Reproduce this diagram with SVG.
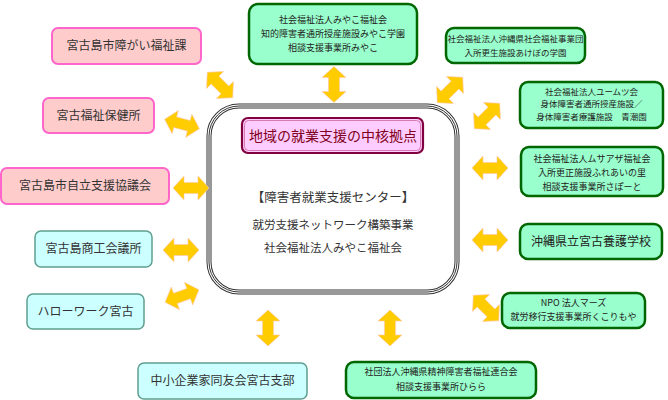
<svg xmlns="http://www.w3.org/2000/svg" xmlns:xlink="http://www.w3.org/1999/xlink" width="668" height="400" viewBox="0 0 668 400">
<style>
text{font-family:"Noto Sans CJK JP","Noto Sans CJK SC",sans-serif;text-anchor:middle;fill:#333}
.pink{fill:#ffcccc;stroke:#ff66cc;stroke-width:2}
.cyan{fill:#ccffff;stroke:#5f9f8f;stroke-width:1.5}
.green{fill:#99ffcc;stroke:#006600;stroke-width:2.5}
.arr{fill:#ffcc00;stroke:#ffc8b0;stroke-width:0.6}
.t12{font-size:12px}
.t9{font-size:9px;fill:#222}
.t85{font-size:8.5px;fill:#222}
</style>
<defs>
<path id="arrow" d="M-18,0 L-7,-12 L-7,-5.5 L7,-5.5 L7,-12 L18,0 L7,12 L7,5.5 L-7,5.5 L-7,12 Z"/>
</defs>
<rect width="668" height="400" fill="#fff"/>

<g id="center">
<rect x="209" y="106" width="248" height="186" rx="30" fill="#fff" stroke="#333" stroke-width="5"/>
<rect x="209" y="106" width="248" height="186" rx="30" fill="none" stroke="#fff" stroke-width="3"/>
<rect x="209" y="106" width="248" height="186" rx="30" fill="none" stroke="#333" stroke-width="1"/>
<rect x="242" y="118" width="181" height="35" rx="6" fill="#ffccff" stroke="#800040" stroke-width="2.2"/>
<rect x="244.5" y="120.5" width="176" height="30" rx="4" fill="none" stroke="#cc6699" stroke-width="0.8"/>
<text x="333" y="140.5" style="font-size:14px;fill:#800020">地域の就業支援の中核拠点</text>
<text x="333" y="201.5" style="font-size:12.5px">【障害者就業支援センター】</text>
<text x="333" y="229" style="font-size:11.5px">就労支援ネットワーク構築事業</text>
<text x="333" y="252" style="font-size:11.5px">社会福祉法人みやこ福祉会</text>
</g>

<g id="n1"><rect class="pink" x="52" y="28" width="149" height="36" rx="6"/><text class="t12" x="126.5" y="50">宮古島市障がい福祉課</text></g>
<g id="n2"><rect class="pink" x="43" y="98" width="111" height="35" rx="6"/><text class="t12" x="98.5" y="119.5">宮古福祉保健所</text></g>
<g id="n3"><rect class="pink" x="1" y="168" width="168" height="36" rx="6"/><text class="t12" x="85" y="190">宮古島市自立支援協議会</text></g>
<g id="n4"><rect class="cyan" x="35" y="231" width="117" height="36" rx="6"/><text class="t12" x="93.5" y="253">宮古島商工会議所</text></g>
<g id="n5"><rect class="cyan" x="27" y="294" width="117" height="35" rx="6"/><text class="t12" x="85.5" y="315.5">ハローワーク宮古</text></g>
<g id="n6"><rect class="cyan" x="138" y="363" width="169" height="36" rx="6"/><text class="t12" x="222.5" y="385">中小企業家同友会宮古支部</text></g>

<g id="n7"><rect class="green" x="249" y="4" width="168" height="60" rx="9"/>
<text class="t9" x="333" y="22.5">社会福祉法人みやこ福祉会</text>
<text class="t9" x="333" y="36.5">知的障害者通所授産施設みやこ学園</text>
<text class="t9" x="333" y="50.5">相談支援事業所みやこ</text></g>
<g id="n8"><rect class="green" x="446" y="28" width="139" height="35" rx="8"/>
<text class="t85" x="515.5" y="41.5">社会福祉法人沖縄県社会福祉事業団</text>
<text class="t85" x="515.5" y="56">入所更生施設あけぼの学園</text></g>
<g id="n9"><rect class="green" x="520" y="82" width="143" height="46" rx="8"/>
<text class="t85" x="591.5" y="94.5">社会福祉法人ユームツ会</text>
<text class="t85" x="591.5" y="107">身体障害者通所授産施設／</text>
<text class="t85" x="591.5" y="119.5">身体障害者療護施設　青潮園</text></g>
<g id="n10"><rect class="green" x="521" y="147" width="142" height="49" rx="8"/>
<text class="t9" x="592" y="162">社会福祉法人ムサアザ福祉会</text>
<text class="t9" x="592" y="176">入所更正施設ふれあいの里</text>
<text class="t9" x="592" y="190">相談支援事業所さぽーと</text></g>
<g id="n11"><rect class="green" x="520" y="224" width="142" height="35" rx="8"/>
<text class="t12" x="591" y="246" style="fill:#222">沖縄県立宮古養護学校</text></g>
<g id="n12"><rect class="green" x="502" y="293" width="143" height="35" rx="8"/>
<text class="t9" x="573.5" y="306">NPO 法人マーズ</text>
<text class="t9" x="573.5" y="320">就労移行支援事業所くこりもや</text></g>
<g id="n13"><rect class="green" x="346" y="362" width="190" height="36" rx="8"/>
<text class="t9" x="441" y="375">社団法人沖縄県精神障害者福祉連合会</text>
<text class="t9" x="441" y="390">相談支援事業所ひらら</text></g>

<g id="connectors" class="arr">
<use xlink:href="#arrow" transform="translate(220,85) rotate(45)"/>
<use xlink:href="#arrow" transform="translate(334,84.5) rotate(90)"/>
<use xlink:href="#arrow" transform="translate(450,90) rotate(-45)"/>
<use xlink:href="#arrow" transform="translate(487,116) rotate(-45)"/>
<use xlink:href="#arrow" transform="translate(490,168)"/>
<use xlink:href="#arrow" transform="translate(490,240)"/>
<use xlink:href="#arrow" transform="translate(486,308) rotate(45)"/>
<use xlink:href="#arrow" transform="translate(268,328) rotate(90)"/>
<use xlink:href="#arrow" transform="translate(390,328) rotate(90)"/>
<use xlink:href="#arrow" transform="translate(182,124) rotate(15)"/>
<use xlink:href="#arrow" transform="translate(191,188)"/>
<use xlink:href="#arrow" transform="translate(181,250)"/>
<use xlink:href="#arrow" transform="translate(182,296) rotate(-20)"/>
</g>
</svg>
